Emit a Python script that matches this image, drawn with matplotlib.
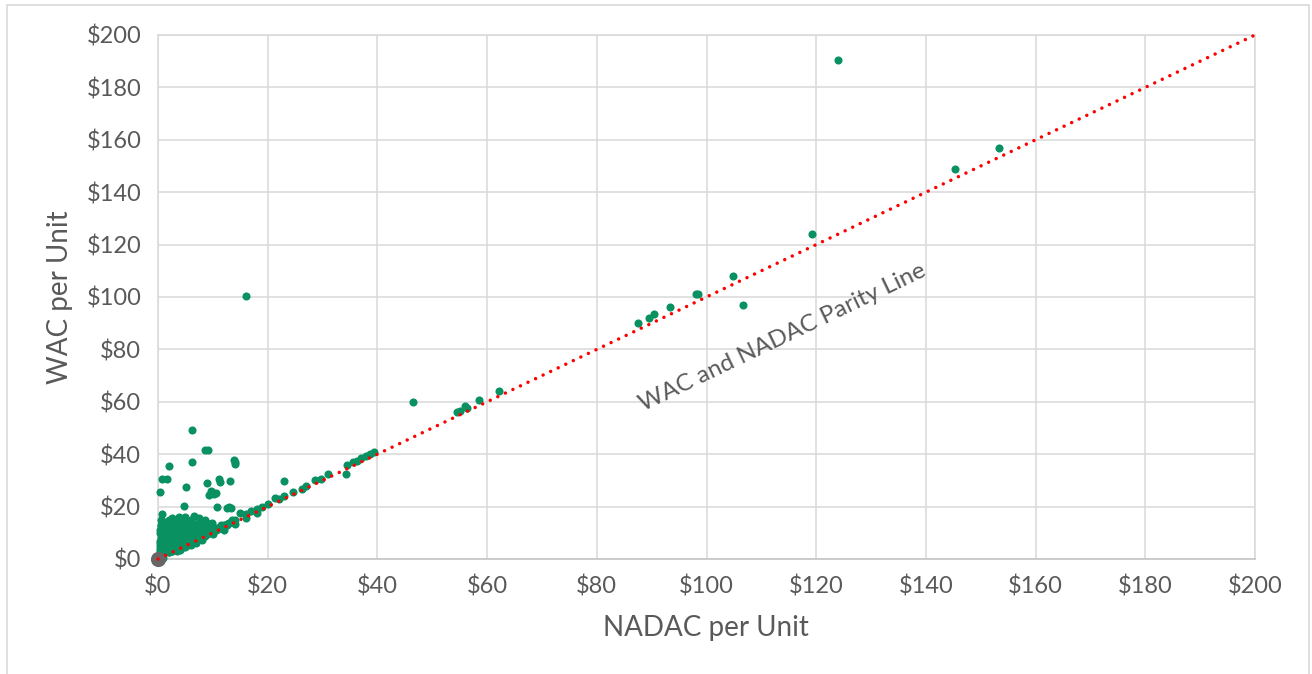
import matplotlib.pyplot as plt
from matplotlib.patches import Rectangle

# scatter points: NADAC (x) vs WAC (y), dollars per unit
nadac = [
    # far left column
    0.3, 0.4, 0.3, 0.5, 0.4, 0.5, 0.6, 0.7, 0.4, 0.7, 1.6, 0.5, 1.0,
    0.3, 0.4, 0.3, 0.5, 0.4, 0.6,
    # dense cluster rows
    1.3, 2.6, 3.8, 5.0, 6.5, 7.4, 8.6,
    1.0, 2.0, 3.0, 4.0, 5.0, 6.0, 7.0, 8.0, 9.0, 9.8, 11.4, 12.6, 13.5,
    1.0, 2.0, 3.0, 4.0, 5.0, 6.0, 7.0, 8.0, 9.0, 10.0,
    1.0, 2.0, 3.0, 4.0, 5.0, 6.0, 7.0, 8.0,
    1.0, 2.0, 3.0, 4.0, 5.0, 6.0,
    1.0, 2.0, 3.0, 4.0,
    1.0, 2.0, 2.5,
    1.5, 2.5, 3.5, 4.5, 5.5, 6.5, 7.5,
    1.5, 2.5, 3.5, 4.5, 5.5, 6.5, 7.5, 8.5,
    # in-between rows
    1.5, 2.5, 3.5, 4.5, 5.5, 6.5, 7.5, 8.5, 9.5, 10.5, 11.5, 12.5,
    1.5, 2.5, 3.5, 4.5, 5.5, 6.5, 7.5, 8.5, 9.5, 10.5,
    1.5, 2.5, 3.5, 4.5, 5.5, 6.5, 7.5, 8.5,
    1.5, 2.5, 3.5, 4.5, 5.5, 6.5, 7.0,
    1.5, 2.5, 3.5, 4.5, 5.0,
    2.0, 3.5, 5.0, 6.0, 8.0, 9.0,
    # band along the parity line
    1.0, 2.0, 3.0, 4.0, 5.0, 6.0, 7.0, 8.0, 9.0, 10.0, 11.0, 12.0, 13.0, 14.0,
    4.0, 6.0, 8.0, 10.0, 12.0, 14.0, 16.0, 18.0,
    5.0, 7.0, 9.0, 11.0, 13.0,
    15.0, 16.0, 17.0, 18.0, 19.0, 20.0, 21.3, 22.0, 23.0, 24.7, 26.2, 27.0,
    28.6, 29.8, 31.0, 34.3, 34.4, 35.6, 36.3, 37.1, 38.0, 38.7, 39.3,
    # scattered above the cluster
    4.7, 10.8, 12.5, 13.3, 12.9, 5.05, 8.9, 11.1, 11.3, 13.2, 23.0,
    9.3, 9.8, 10.3, 9.6, 10.6, 2.0, 6.2, 13.8, 14.0, 14.1, 8.6, 9.2, 6.25,
    16.0,
    # upper range
    46.4, 54.6, 55.1, 56.0, 56.4, 58.5, 62.2,
    87.6, 89.5, 90.4, 93.3, 98.1, 98.5, 104.9, 106.6,
    119.2, 124.0, 145.3, 153.3,
]
wac = [
    2.0, 4.0, 6.0, 8.0, 10.0, 12.5, 13.0, 17.1, 25.6, 30.7, 30.7, 1.0, 0.5,
    3.0, 5.0, 7.0, 9.0, 11.0, 15.0,
    14.2, 15.5, 16.1, 16.1, 16.4, 15.5, 14.9,
    12.0, 12.2, 12.5, 12.0, 12.3, 12.1, 12.4, 12.0, 12.2, 13.6, 13.0, 13.0, 14.9,
    10.0, 10.2, 9.8, 10.1, 10.0, 10.3, 9.9, 10.2, 10.5, 11.2,
    8.0, 8.2, 7.9, 8.1, 8.3, 8.0, 8.5, 9.0,
    6.0, 6.2, 5.9, 6.1, 6.5, 7.0,
    4.0, 4.2, 4.5, 5.0,
    2.2, 2.8, 3.2,
    13.5, 14.0, 13.2, 14.5, 13.8, 13.5, 13.0,
    7.0, 7.2, 6.8, 9.2, 9.0, 11.0, 11.0, 11.5,
    11.0, 11.2, 10.9, 11.1, 11.0, 11.3, 11.0, 11.2, 11.4, 11.8, 12.2, 13.5,
    9.0, 9.1, 8.9, 9.0, 9.2, 9.0, 9.3, 9.5, 9.8, 11.0,
    7.1, 7.0, 7.2, 7.0, 7.1, 7.3, 7.9, 8.6,
    5.0, 5.1, 4.9, 5.0, 5.3, 6.6, 6.2,
    3.0, 3.1, 3.2, 4.6, 4.4,
    15.0, 15.2, 14.8, 15.0, 14.2, 13.6,
    1.5, 2.8, 3.9, 4.8, 5.9, 6.6, 7.8, 8.7, 9.9, 10.8, 11.6, 12.9, 13.7, 14.8,
    3.5, 5.2, 7.3, 9.4, 11.2, 13.4, 15.5, 17.6,
    5.6, 7.6, 9.7, 11.8, 13.9,
    17.4, 17.0, 18.2, 19.0, 19.8, 21.0, 23.1, 23.0, 24.0, 25.6, 26.9, 27.8,
    30.1, 30.7, 32.4, 32.4, 35.8, 37.1, 37.5, 38.4, 39.2, 40.0, 40.9,
    20.2, 19.8, 19.3, 19.3, 19.9, 27.3, 29.1, 30.7, 29.4, 29.7, 29.8,
    24.5, 25.5, 24.8, 26.0, 25.2, 35.4, 37.1, 37.9, 37.0, 36.2, 41.6, 41.6, 49.4,
    100.2,
    59.8, 56.1, 56.5, 58.3, 57.6, 60.8, 64.1,
    90.2, 92.1, 93.6, 96.1, 101.2, 101.2, 107.9, 96.8,
    124.2, 190.5, 149.0, 157.0,
]

parity = [0, 200]
ticks = list(range(0, 201, 20))
tick_labels = ['$' + str(t) for t in ticks]

GREEN = '#0a9161'
TEXT = '#595959'
GRID = '#d9d9d9'

plt.rcParams['font.family'] = ['Lato', 'DejaVu Sans']

fig = plt.figure(figsize=(13.12, 6.74), dpi=100)
ax = fig.add_axes([158 / 1312, 1 - 559 / 674, (1255 - 158) / 1312, (559 - 35) / 674])

# outer chart border
fig.patches.append(Rectangle((7 / 1312, -0.05), 1302 / 1312, 1.05 - 5 / 674,
                             transform=fig.transFigure, fill=False,
                             edgecolor=GRID, linewidth=1.2))

ax.set_xlim(0, 200)
ax.set_ylim(0, 200)
ax.set_xticks(ticks)
ax.set_yticks(ticks)
ax.set_xticklabels(tick_labels)
ax.set_yticklabels(tick_labels)
ax.tick_params(length=0, labelsize=17, labelcolor=TEXT, pad=12)
ax.grid(True, color=GRID, linewidth=1.1)
ax.set_axisbelow(True)
for side in ['top', 'right', 'left']:
    ax.spines[side].set_color(GRID)
    ax.spines[side].set_linewidth(1.1)
ax.spines['bottom'].set_color('#c8c8c8')
ax.spines['bottom'].set_linewidth(1.3)

ax.plot(parity, parity, color='red', linewidth=2.5, linestyle=(0, (0.01, 2.4)),
        dash_capstyle='round', zorder=4, clip_on=False)
ax.scatter(nadac, wac, s=34, color=GREEN, linewidths=0, zorder=3, clip_on=False)
ax.scatter([0], [0], s=120, color='#666666', linewidths=0, zorder=3, clip_on=False)

ax.text(113.8, 84.6, 'WAC and NADAC Parity Line', rotation=25.6,
        rotation_mode='anchor', ha='center', va='center',
        fontsize=17.5, color=TEXT, zorder=5)

fig.text(706 / 1312, 1 - 628 / 674, 'NADAC per Unit', ha='center', va='center',
         fontsize=20, color=TEXT)
fig.text(60 / 1312, 1 - 297 / 674, 'WAC per Unit', ha='center', va='center',
         rotation=90, fontsize=20, color=TEXT)

fig.savefig('out.png', dpi=100)
